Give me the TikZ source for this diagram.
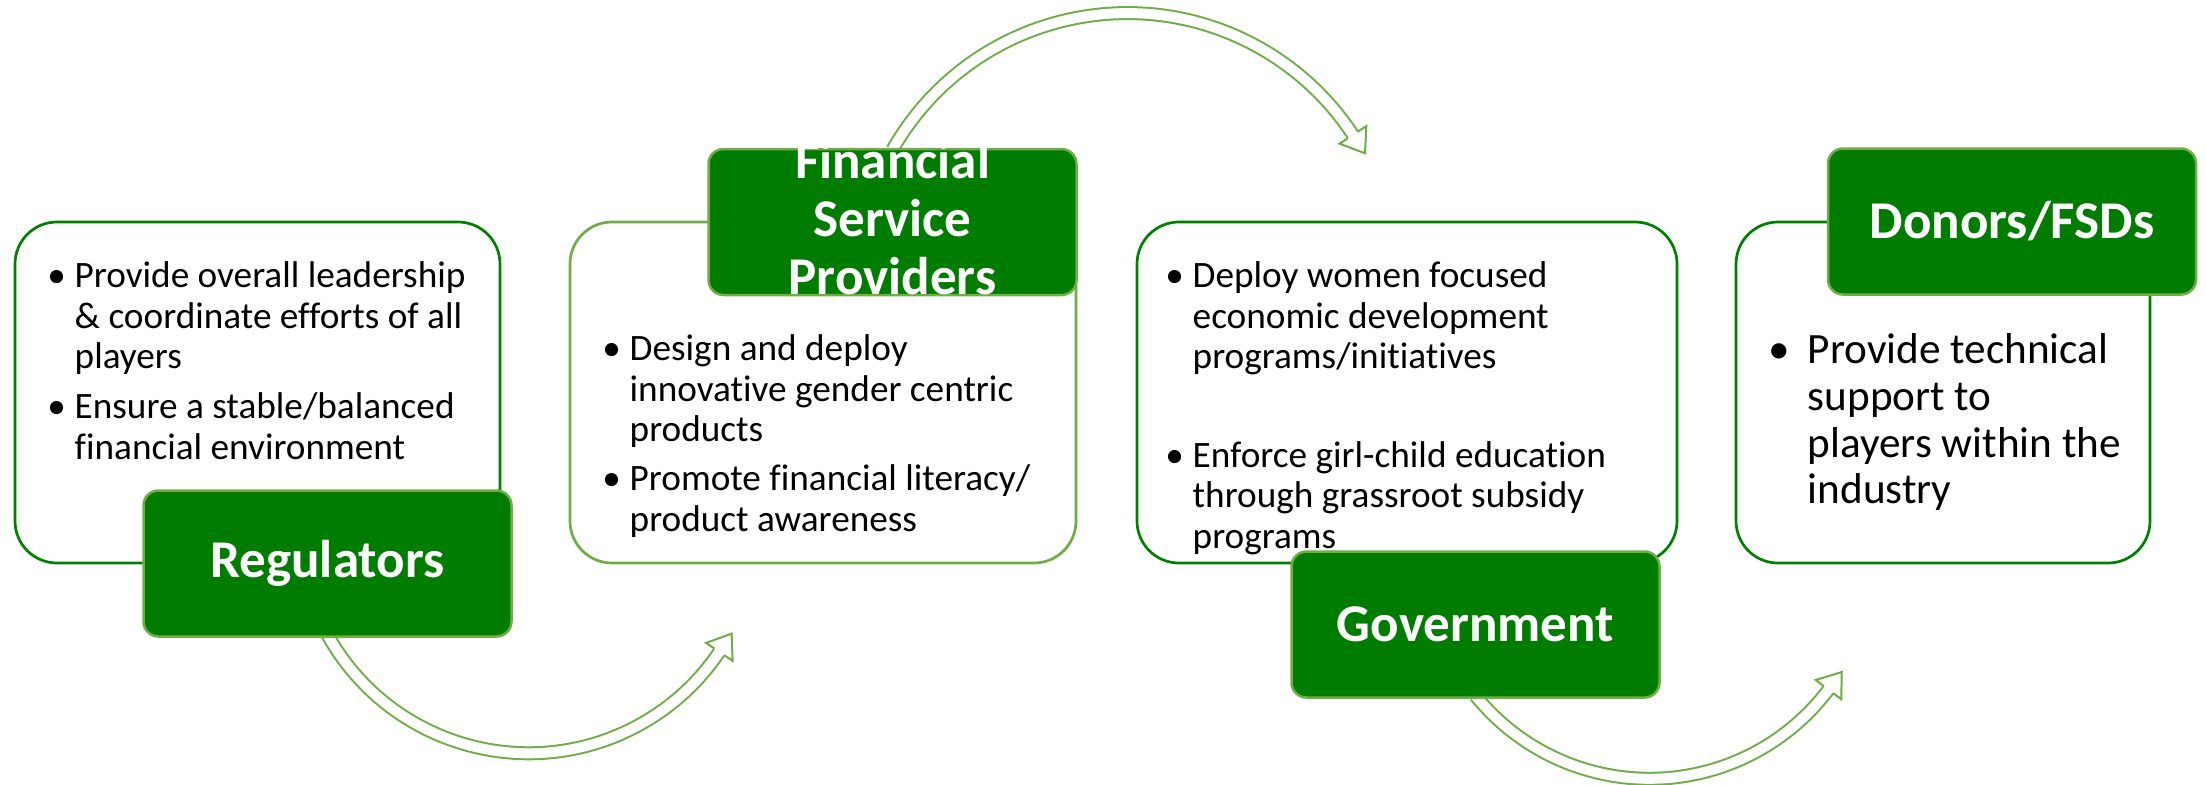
\documentclass[tikz,border=0pt]{standalone}
\usepackage{fontspec}
\setmainfont{Carlito}[Ligatures=NoCommon]
\usetikzlibrary{calc,backgrounds}
\definecolor{rolegreen}{RGB}{0,125,0}
\definecolor{edgegreen}{RGB}{112,173,71}
\definecolor{boxgreen}{RGB}{0,128,0}
\newcommand{\itembullet}[1][2.5pt]{\llap{\textbullet\hspace{#1}}}

\begin{document}
\begin{tikzpicture}[
  infobox/.style={draw=boxgreen, line width=0.027cm, fill=white, rounded corners=0.42cm, minimum height=3.41cm, inner sep=0pt},
  roletext/.style={text=white, font=\bfseries\fontsize{15.1}{16.5}\selectfont, align=center, inner sep=0pt},
  rolebox/.style={roletext, draw=edgegreen, line width=0.025cm, fill=rolegreen, rounded corners=0.15cm, minimum width=3.68cm, minimum height=1.46cm},
  pointtext/.style={anchor=north west, inner sep=0pt, align=left, font=\fontsize{10.6}{11.5}\selectfont},
  cyclearrow/.style={draw=edgegreen, line width=0.02cm, double=white, double distance=0.10cm},
  cyclehead/.style={draw=edgegreen, line width=0.02cm, fill=white, line join=miter}
]
\useasboundingbox (0,0) rectangle (22.06,7.84);

\node[infobox, minimum width=4.85cm] (regbox) at (2.575,3.915) {};
\node[infobox, minimum width=5.06cm, draw=edgegreen] (fspbox) at (8.23,3.915) {};
\node[infobox, minimum width=5.40cm] (govbox) at (14.07,3.915) {};
\node[infobox, minimum width=4.14cm] (donbox) at (19.43,3.915) {};

\node[pointtext] (regtxt) at (0.74,5.253) {\strut\itembullet Provide overall leadership\\ \& coordinate efforts of all\\ players\\[2.8pt] \itembullet Ensure a stable/balanced\\ financial environment};
\node[pointtext] (fsptxt) at (6.29,4.523) {\strut\itembullet Design and deploy\\ innovative gender centric\\ products\\[2.5pt] \itembullet Promote financial literacy/\\ product awareness};
\node[pointtext] (govtxt) at (11.92,5.253) {\strut\itembullet Deploy women focused\\ economic development\\ programs/initiatives\\[16.6pt] \itembullet Enforce girl-child education\\ through grassroot subsidy\\ programs};
\node[pointtext, font=\fontsize{12.3}{13.3}\selectfont] (dontxt) at (18.07,4.537) {\strut\itembullet[5pt]Provide technical\\ support to\\ players within the\\ industry};

\node[rolebox] (reg) at (3.275,2.205) {Regulators};
\node[rolebox] (fsp) at (8.925,5.62) {};
\node[roletext] (fspname) at ([yshift=0.04cm]fsp.center) {Financial\\Service\\Providers};
\node[rolebox] (gov) at (14.755,1.595) {Government};
\node[rolebox] (don) at (20.12,5.625) {Donors/FSDs};

\begin{scope}[on background layer]
\draw[cyclearrow] ([yshift=0.03cm]reg.south) arc[start angle=209, end angle=326, radius=2.30] coordinate (h1);
\filldraw[cyclehead] ($(h1)+(326:0.06)$) -- ($(h1)+(326:0.16)$) -- ($(h1)+(56:0.22)$) -- ($(h1)+(146:0.16)$) -- ($(h1)+(146:0.06)$);
\draw[cyclearrow] ([yshift=-0.02cm]fsp.north) arc[start angle=150.4, end angle=33.3, radius=2.70] coordinate (h2);
\filldraw[cyclehead] ($(h2)+(33.3:0.06)$) -- ($(h2)+(33.3:0.16)$) -- ($(h2)+(-56.7:0.22)$) -- ($(h2)+(213.3:0.16)$) -- ($(h2)+(213.3:0.06)$);
\draw[cyclearrow] ([yshift=0.03cm]gov.south) arc[start angle=219, end angle=323, radius=2.24] coordinate (h3);
\filldraw[cyclehead] ($(h3)+(323:0.06)$) -- ($(h3)+(323:0.16)$) -- ($(h3)+(53:0.22)$) -- ($(h3)+(143:0.16)$) -- ($(h3)+(143:0.06)$);
\end{scope}
\end{tikzpicture}
\end{document}
